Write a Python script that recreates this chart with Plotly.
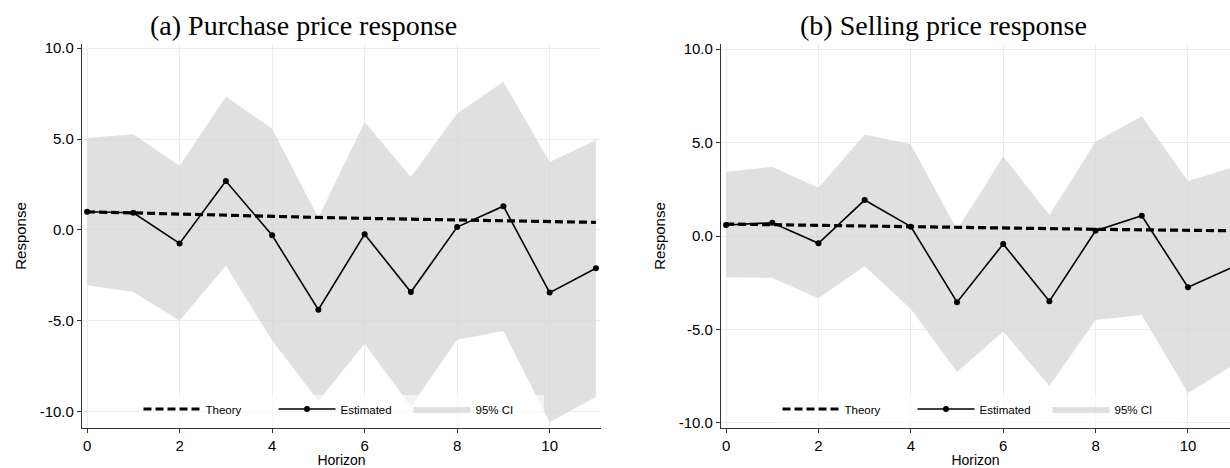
import plotly.graph_objects as go

# ---------------- data ----------------
horizon = [0, 1, 2, 3, 4, 5, 6, 7, 8, 9, 10, 11]

a_theory = [1.00, 0.93, 0.87, 0.81, 0.75, 0.69, 0.64, 0.59, 0.55, 0.51, 0.46, 0.42]
a_est = [1.00, 0.95, -0.74, 2.69, -0.29, -4.38, -0.23, -3.41, 0.16, 1.31, -3.44, -2.10]
a_upper = [5.05, 5.26, 3.52, 7.34, 5.57, 0.67, 5.94, 2.91, 6.40, 8.14, 3.74, 4.95]
a_lower = [-3.04, -3.41, -4.97, -1.97, -6.07, -9.40, -6.25, -9.70, -6.03, -5.55, -10.57, -9.16]

b_theory = [0.64, 0.60, 0.56, 0.53, 0.49, 0.46, 0.43, 0.40, 0.36, 0.33, 0.30, 0.28]
b_est = [0.59, 0.71, -0.39, 1.92, 0.50, -3.54, -0.43, -3.49, 0.28, 1.08, -2.74, -1.63]
b_upper = [3.44, 3.70, 2.58, 5.43, 4.91, 0.32, 4.27, 1.12, 5.04, 6.41, 2.94, 3.69]
b_lower = [-2.21, -2.24, -3.33, -1.62, -3.90, -7.28, -5.11, -8.03, -4.49, -4.22, -8.40, -6.88]

titles = ["(a) Purchase price response", "(b) Selling price response"]
x_ticks = [0, 2, 4, 6, 8, 10]
y_ticks = [-10, -5, 0, 5, 10]
y_ticklabels = ["-10.0", "-5.0", "0.0", "5.0", "10.0"]

# ---------------- layout helpers ----------------
W, H = 1230, 468
def fx(p):
    return p / W
def fy(p):
    return 1 - p / H

SANS = "Liberation Sans, Arial, sans-serif"
SERIF = "Liberation Serif, Times New Roman, serif"
CI_FILL = "rgba(214,214,214,0.75)"

fig = go.Figure()

panels = [
    dict(theory=a_theory, est=a_est, up=a_upper, lo=a_lower, xa="x", ya="y", leg="legend"),
    dict(theory=b_theory, est=b_est, up=b_upper, lo=b_lower, xa="x2", ya="y2", leg="legend2"),
]

for p in panels:
    fig.add_trace(go.Scatter(x=horizon, y=p["lo"], mode="lines", line=dict(width=0),
                             showlegend=False, hoverinfo="skip",
                             xaxis=p["xa"], yaxis=p["ya"]))
    fig.add_trace(go.Scatter(x=horizon, y=p["up"], mode="lines", line=dict(width=0),
                             fill="tonexty", fillcolor=CI_FILL, name="95% CI",
                             legend=p["leg"], legendrank=3,
                             xaxis=p["xa"], yaxis=p["ya"]))
    fig.add_trace(go.Scatter(x=horizon, y=p["theory"], mode="lines", name="Theory",
                             line=dict(color="black", width=3.2, dash="8px,4px"),
                             legend=p["leg"], legendrank=1,
                             xaxis=p["xa"], yaxis=p["ya"]))
    fig.add_trace(go.Scatter(x=horizon, y=p["est"], mode="lines+markers", name="Estimated",
                             line=dict(color="black", width=1.6),
                             marker=dict(color="black", size=6),
                             legend=p["leg"], legendrank=2,
                             xaxis=p["xa"], yaxis=p["ya"]))

axis_common = dict(showline=True, linecolor="#333333", linewidth=1.3, ticks="outside",
                   ticklen=4, tickcolor="#333333", tickwidth=1, showgrid=True,
                   gridcolor="#ececec", gridwidth=1, zeroline=False,
                   tickfont=dict(family=SANS, size=15, color="black"))

top_px, bottom_px = 44, 428
ydom = [fy(bottom_px), fy(top_px)]
x_title_font = dict(family=SANS, size=14, color="black")
y_title_font = dict(family=SANS, size=15, color="black")

legend_common = dict(orientation="h", yanchor="middle", y=fy(409), xanchor="center",
                     bgcolor="rgba(255,255,255,0.6)",
                     font=dict(family=SANS, size=11.5, color="black"),
                     itemwidth=57, traceorder="normal",
                     entrywidth=63, entrywidthmode="pixels")

fig.update_layout(
    width=W, height=H, margin=dict(l=0, r=0, t=0, b=0, autoexpand=False),
    paper_bgcolor="white", plot_bgcolor="white",
    xaxis=dict(domain=[fx(82), fx(601)], range=[-0.11, 11.11], tickvals=x_ticks,
               title=dict(text="Horizon", font=x_title_font, standoff=3),
               anchor="y", **axis_common),
    yaxis=dict(domain=ydom, range=[-10.88, 10.22], tickvals=y_ticks, ticktext=y_ticklabels,
               title=dict(text="Response", font=y_title_font, standoff=9),
               anchor="x", **axis_common),
    xaxis2=dict(domain=[fx(721), 1.0], range=[-0.11, 10.91], tickvals=x_ticks,
                title=dict(text="Horizon", font=x_title_font, standoff=3),
                anchor="y2", **axis_common),
    yaxis2=dict(domain=ydom, range=[-10.27, 10.27], tickvals=y_ticks, ticktext=y_ticklabels,
                title=dict(text="Response", font=y_title_font, standoff=9),
                anchor="x2", **axis_common),
    legend=dict(x=fx(341), **legend_common),
    legend2=dict(x=fx(980), **legend_common),
    showlegend=True,
)

for t, cx in zip(titles, [303, 943]):
    fig.add_annotation(text=t, x=fx(cx), y=fy(25), xref="paper", yref="paper",
                       xanchor="center", yanchor="middle", showarrow=False,
                       font=dict(family=SERIF, size=28, color="black"))

fig.write_html("out.html")
